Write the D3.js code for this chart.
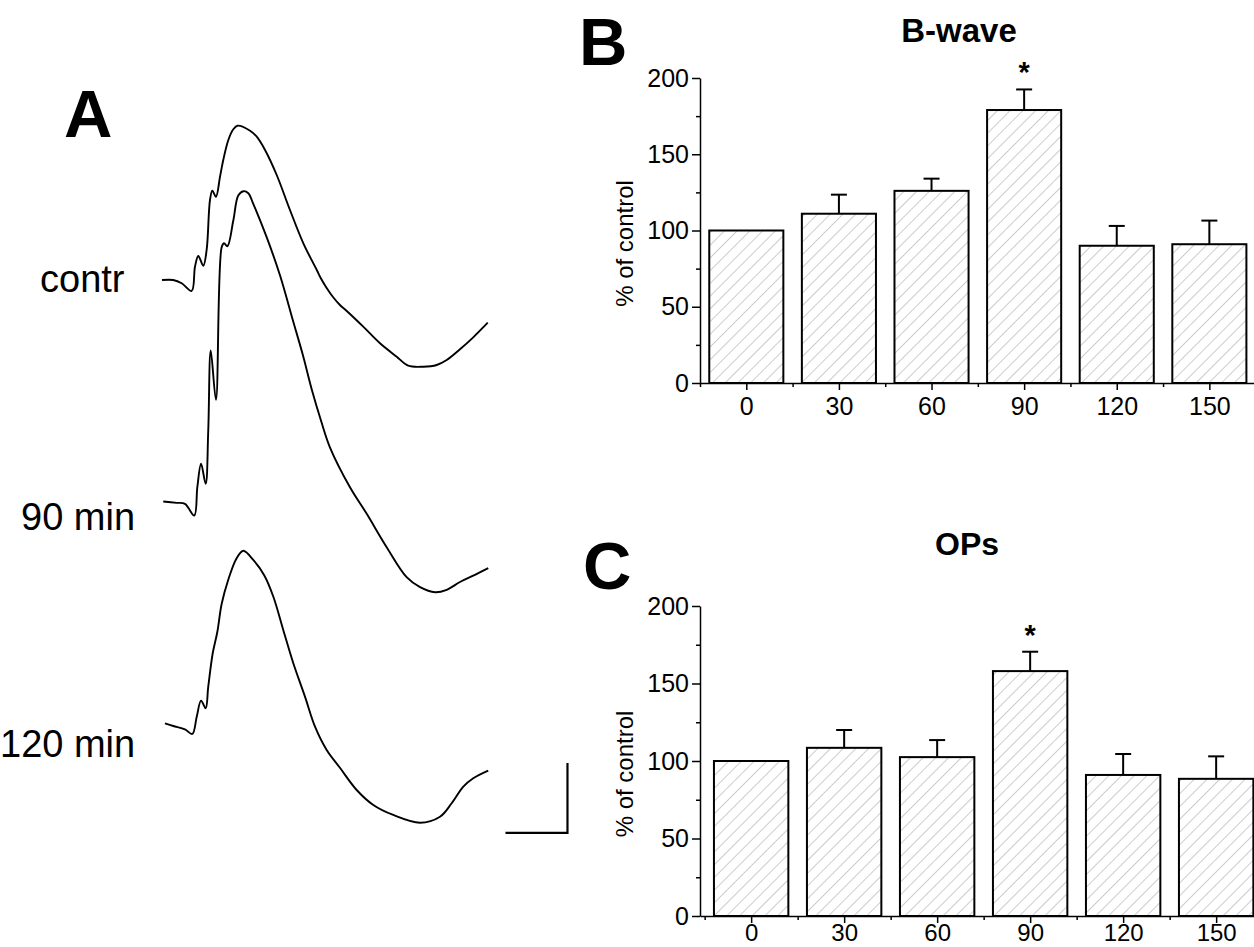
<!DOCTYPE html>
<html><head><meta charset="utf-8">
<script src="https://cdn.jsdelivr.net/npm/d3@7"></script>
<style>
body{margin:0;background:#fff}
text{font-family:"Liberation Sans",Arial,Helvetica,sans-serif;fill:#000}
</style>
</head><body>
<svg id="fig" width="1254" height="947"></svg>
<script>
// ---------------- DATA ----------------
const timePoints = [0, 30, 60, 90, 120, 150];          // min
const bwaveMean  = [100, 111, 126, 179, 90, 91];       // % of control
const bwaveSem   = [0, 12.5, 8, 13.5, 13, 15.5];
const opsMean    = [100, 108.5, 102.5, 158, 91, 88.5];
const opsSem     = [0, 11.5, 11, 12.5, 13.5, 14.5];
const significant = [false, false, false, true, false, false];
const yTicks     = [0, 50, 100, 150, 200];
const yMinorTicks = [25, 75, 125, 175];
const xMinorTicks = [-15, 15, 45, 75, 105, 135];

const traceNames = ["contr", "90 min", "120 min"];
// ERG traces: [time (ms), amplitude (µV) relative to pre-stimulus baseline]
const traceContr = [[0,0],[9.1,0],[15.9,-4.7],[23.9,-15.7],[26.6,19],[29.3,34.3],[33.3,20.4],[36,42.9],[38.7,114.3],[40.6,127.6],[43.5,119],[46.8,147.6],[49.4,171.4],[53.5,200],[57.5,215.3],[61,220.4],[71,213.3],[76.4,204.7],[83.1,185.7],[92.5,150],[103.2,100],[114,52.4],[124.8,14.3],[128.2,2.1],[132.8,-11.4],[137.9,-24.3],[143.5,-35.7],[149,-44.3],[162.3,-66.7],[175.8,-90.4],[189.3,-109.6],[198.6,-122.4],[210.7,-123.9],[221.5,-121.4],[229.6,-114.3],[240.3,-99],[251,-81.9],[262.7,-61]];
const trace90 = [[1,0],[11.9,-1.9],[18.5,-3.3],[26,-20],[28.5,20.4],[31.5,53.9],[35.2,25.3],[37.3,101.4],[39.3,215.7],[43.5,145.3],[48.1,363.3],[50,369],[52.7,364.7],[57.5,401.4],[61.5,437.1],[65.6,443.3],[69.6,440.4],[73.6,425.3],[84.4,377.6],[95.2,322.9],[105.6,258.6],[113.7,208.6],[121,158.6],[128.2,115.7],[135.5,77.1],[151.6,20.4],[165.1,-17.6],[181.2,-65.3],[197.3,-108.1],[208.1,-122.4],[220.2,-129.6],[229.6,-126.1],[240.3,-115],[251,-106],[263.1,-95.3]];
const trace120 = [[2.4,-0.4],[9.1,-4.3],[18.5,-9],[24.4,-15.7],[28,9],[31.5,31.9],[35.2,21],[37.3,51.9],[40.9,99.6],[44.6,130],[48.1,170],[53.5,205],[60.2,235.3],[65.6,246.1],[73.6,232.9],[82.3,211.4],[89.8,180.4],[97.8,132.9],[105.9,85.3],[115.3,37.6],[123.4,-5.3],[132.8,-38.6],[143.5,-64],[157,-95.7],[170.4,-117.1],[186.5,-131.4],[208.1,-142.4],[224.2,-133.9],[233.6,-114.7],[243,-91],[251,-79],[263.1,-68.1]];
const traces = [traceContr, trace90, trace120];
// calibration bar: 50 ms, 100 µV (placed below the end of the last trace)
const calTime = [277, 327];     // ms
const calAmp  = [-157, -57];    // µV, relative to last trace baseline

// ---------------- DRAW ----------------
const svg = d3.select("#fig");
const FONT = '"Liberation Sans",Arial,Helvetica,sans-serif';

// hatch pattern
const defs = svg.append("defs");
const HS = 9;
const pat = defs.append("pattern").attr("id","hatch").attr("patternUnits","userSpaceOnUse")
  .attr("width",HS).attr("height",HS).attr("patternTransform","rotate(45)");
pat.append("rect").attr("width",HS).attr("height",HS).attr("fill","#fff");
pat.append("line").attr("x1",0).attr("y1",0).attr("x2",0).attr("y2",HS)
  .attr("stroke","#999").attr("stroke-width",1);

// panel letters
function letter(txt,x,y){
  svg.append("text").attr("x",x).attr("y",y).attr("font-size",67).attr("font-weight","bold").text(txt);
}
letter("A",64,137);
letter("B",579,65);
letter("C",583,589);

// ---- Panel A traces ----
const xT = d3.scaleLinear().domain([0, 263]).range([162, 162 + 263*1.24]);
const baseY = d3.scalePoint().domain(traceNames).range([280, 723]);
const ampPx = 0.7; // px per µV
const line = d3.line().curve(d3.curveCatmullRom.alpha(0.5));
traces.forEach((tr,i)=>{
  const b = baseY(traceNames[i]);
  const yS = d3.scaleLinear().domain([0,100]).range([b, b-100*ampPx]);
  svg.append("path").attr("d", line(tr.map(d=>[xT(d[0]), yS(d[1])])))
    .attr("fill","none").attr("stroke","#000").attr("stroke-width",1.9).attr("stroke-linejoin","round");
});
const labelPos = [[40,292],[21,530],[0,757]];
traceNames.forEach((n,i)=>{
  svg.append("text").attr("x",labelPos[i][0]).attr("y",labelPos[i][1]).attr("font-size",38).text(n);
});
// calibration bar
{
  const b = baseY(traceNames[2]);
  const yS = d3.scaleLinear().domain([0,100]).range([b, b-100*ampPx]);
  svg.append("path")
    .attr("d", d3.line()([[xT(calTime[0]), yS(calAmp[0])],[xT(calTime[1]), yS(calAmp[0])],[xT(calTime[1]), yS(calAmp[1])]]))
    .attr("fill","none").attr("stroke","#000").attr("stroke-width",2.2);
}

// ---- Bar panels ----
function barPanel(cfg){
  const g = svg.append("g");
  const x = d3.scaleLinear().domain(cfg.xDomain).range(cfg.xRange);
  const y = d3.scaleLinear().domain([0,200]).range(cfg.yRange);
  const bw = 24; // minutes wide
  // bars
  g.selectAll("rect.bar").data(timePoints).join("rect").attr("class","bar")
    .attr("x", d=>x(d-bw/2)).attr("width", d=>x(d+bw/2)-x(d-bw/2))
    .attr("y", (d,i)=>y(cfg.mean[i])).attr("height",(d,i)=>y(0)-y(cfg.mean[i]))
    .attr("fill","url(#hatch)").attr("stroke","#000").attr("stroke-width",2);
  // error bars
  timePoints.forEach((t,i)=>{
    if(cfg.sem[i] <= 0) return;
    const cx = x(t), y0 = y(cfg.mean[i]), y1 = y(cfg.mean[i]+cfg.sem[i]);
    g.append("line").attr("x1",cx).attr("x2",cx).attr("y1",y0).attr("y2",y1).attr("stroke","#000").attr("stroke-width",2);
    g.append("line").attr("x1",cx-8).attr("x2",cx+8).attr("y1",y1).attr("y2",y1).attr("stroke","#000").attr("stroke-width",2);
    if(significant[i]){
      g.append("text").attr("x",cx).attr("y",y1-7).attr("text-anchor","middle")
        .attr("font-size",29).attr("font-weight","bold").text("*");
    }
  });
  // axes
  const yAx = g.append("g").attr("transform",`translate(${x(cfg.xDomain[0])},0)`)
    .call(d3.axisLeft(y).tickValues(yTicks).tickSize(8).tickSizeOuter(0).tickPadding(3));
  const yMin = g.append("g").attr("transform",`translate(${x(cfg.xDomain[0])},0)`)
    .call(d3.axisLeft(y).tickValues(yMinorTicks).tickSize(4).tickSizeOuter(0).tickFormat(""));
  yMin.select(".domain").remove();
  const xAx = g.append("g").attr("transform",`translate(0,${y(0)})`)
    .call(d3.axisBottom(x).tickValues(timePoints).tickSize(7).tickSizeOuter(0).tickPadding(cfg.xPad));
  const xMin = g.append("g").attr("transform",`translate(0,${y(0)})`)
    .call(d3.axisBottom(x).tickValues(xMinorTicks).tickSize(4).tickSizeOuter(0).tickFormat(""));
  xMin.select(".domain").remove();
  [yAx,yMin,xAx,xMin].forEach(a=>{
    a.selectAll("path,line").attr("stroke","#000").attr("stroke-width",1.5);
    a.selectAll("text").attr("font-size",25).attr("font-family",FONT).attr("fill","#000");
  });
  xAx.selectAll("text").attr("font-size",cfg.xFont);
  // y label
  const cy = (cfg.yRange[0]+cfg.yRange[1])/2 + 13;
  g.append("text").attr("transform",`translate(633,${cy}) rotate(-90)`).attr("text-anchor","middle")
    .attr("font-size",24).text("% of control");
  // title
  g.append("text").attr("x",cfg.titleX).attr("y",cfg.titleY).attr("text-anchor","middle")
    .attr("font-size",cfg.titleSize).attr("font-weight","bold").text(cfg.title);
}

barPanel({xDomain:[-15,165], xRange:[700,700+180*3.087], yRange:[383,78], xPad:7, xFont:25,
  mean:bwaveMean, sem:bwaveSem, title:"B-wave", titleX:959, titleY:42, titleSize:33});
barPanel({xDomain:[-16.5,162.5], xRange:[700,700+179*3.1], yRange:[916,606], xPad:1, xFont:24,
  mean:opsMean, sem:opsSem, title:"OPs", titleX:967, titleY:555, titleSize:32});
</script>
</body></html>
